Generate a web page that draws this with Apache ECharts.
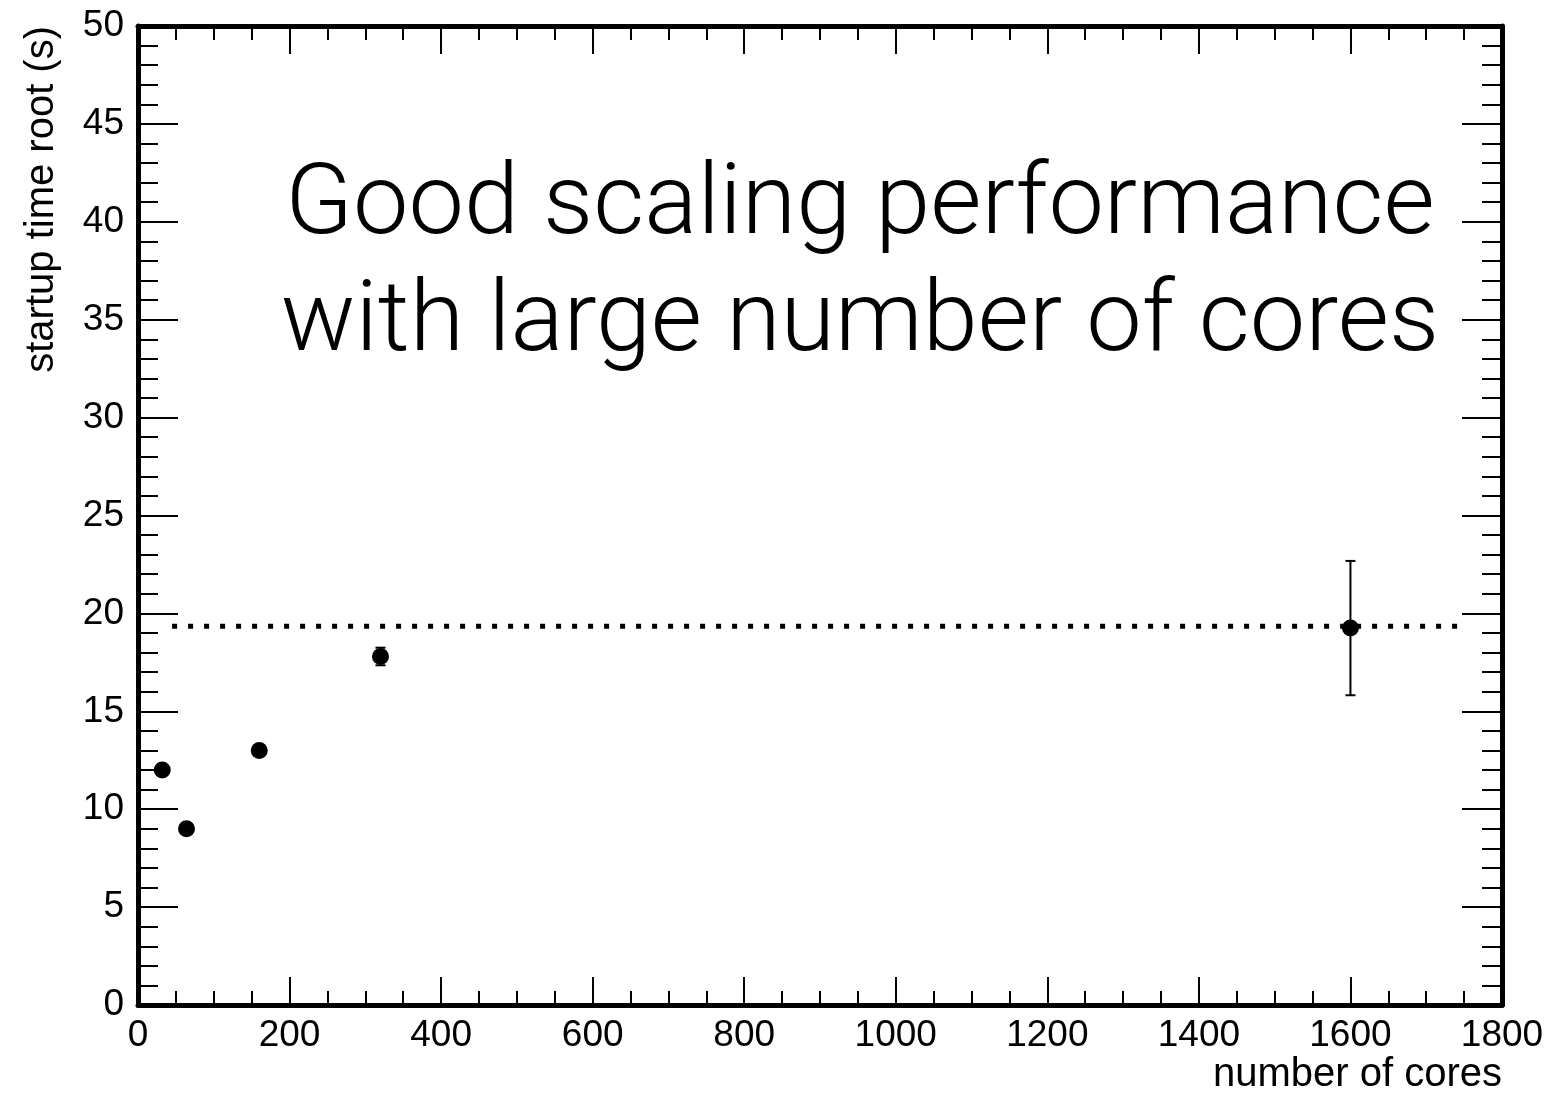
<!DOCTYPE html>
<html><head><meta charset="utf-8">
<script src="https://cdn.jsdelivr.net/npm/echarts@6/dist/echarts.min.js"></script>
<style>html,body{margin:0;padding:0;background:#fff}#c{width:1555px;height:1095px}</style>
</head><body><div id="c"></div>
<script>
// ---- data ----
const cores = [32, 64, 160, 320, 1600];
const startupTime = [12.0, 9.0, 13.0, 17.8, 19.25];
const startupErr = [0, 0, 0, 0.45, 3.43];
const refLineX = [45, 1745];
const refLineY = [19.35, 19.35];
const xRange = [0, 1800];
const xStep = 200;
const yRange = [0, 50];
const yStep = 5;
const xTitle = 'number of cores';
const yTitle = 'startup time root (s)';
const noteLines = ['Good scaling performance', 'with large number of cores'];

const FONT = 'Liberation Sans, Arial, Helvetica, sans-serif';
const chart = echarts.init(document.getElementById('c'));

function axisBase(extra) {
  return Object.assign({
    axisLine: { show: true, onZero: false, lineStyle: { color: '#000', width: 5 } },
    splitLine: { show: false },
    minorSplitLine: { show: false }
  }, extra);
}
const plain = v => String(v);

const points = cores.map((c, i) => [c, startupTime[i], startupErr[i]]);

const option = {
  backgroundColor: '#fff',
  animation: false,
  grid: { left: 138, right: 53, top: 26, bottom: 86, containLabel: false },
  xAxis: [
    axisBase({
      type: 'value', position: 'bottom', min: xRange[0], max: xRange[1], interval: xStep,
      name: xTitle, nameLocation: 'end', nameGap: 0,
      nameTextStyle: { fontFamily: FONT, fontSize: 40, color: '#000', align: 'right', verticalAlign: 'top', padding: [50, 0, 0, 0] },
      axisTick: { show: true, inside: true, length: 28, lineStyle: { color: '#000', width: 2 } },
      minorTick: { show: true, splitNumber: 4, length: 14, lineStyle: { color: '#000', width: 2 } },
      axisLabel: { fontFamily: FONT, fontSize: 37, color: '#000', margin: 12, formatter: plain }
    }),
    axisBase({
      type: 'value', position: 'top', min: xRange[0], max: xRange[1], interval: xStep,
      axisTick: { show: true, inside: true, length: 28, lineStyle: { color: '#000', width: 2 } },
      minorTick: { show: true, splitNumber: 4, length: 14, lineStyle: { color: '#000', width: 2 } },
      axisLabel: { show: false }
    })
  ],
  yAxis: [
    axisBase({
      type: 'value', position: 'left', min: yRange[0], max: yRange[1], interval: yStep,
      name: yTitle, nameLocation: 'end', nameRotate: 90, nameGap: 0,
      nameTextStyle: { fontFamily: FONT, fontSize: 40, color: '#000', align: 'right', verticalAlign: 'bottom', padding: [0, 0, 76, 0] },
      axisTick: { show: true, inside: true, length: 40, lineStyle: { color: '#000', width: 2 } },
      minorTick: { show: true, splitNumber: 5, length: 20, lineStyle: { color: '#000', width: 2 } },
      axisLabel: { fontFamily: FONT, fontSize: 37, color: '#000', margin: 14, formatter: plain }
    }),
    axisBase({
      type: 'value', position: 'right', min: yRange[0], max: yRange[1], interval: yStep,
      axisTick: { show: true, inside: true, length: 40, lineStyle: { color: '#000', width: 2 } },
      minorTick: { show: true, splitNumber: 5, length: 20, lineStyle: { color: '#000', width: 2 } },
      axisLabel: { show: false }
    })
  ],
  graphic: [
    { type: 'text', x: 860, y: 208, style: { text: noteLines[0], font: '300 99px Roboto, sans-serif', fill: '#000', align: 'center', verticalAlign: 'middle' } },
    { type: 'text', x: 860, y: 325, style: { text: noteLines[1], font: '300 99px Roboto, sans-serif', fill: '#000', align: 'center', verticalAlign: 'middle' } }
  ],
  series: [
    {
      type: 'line', xAxisIndex: 0, yAxisIndex: 0,
      data: refLineX.map((x, i) => [x, refLineY[i]]),
      symbol: 'none', silent: true,
      lineStyle: { color: '#000', width: 5, type: [5, 11], cap: 'butt', opacity: 1 }
    },
    {
      type: 'custom', xAxisIndex: 0, yAxisIndex: 0,
      data: points,
      renderItem: function (params, api) {
        const x = api.value(0), y = api.value(1), e = api.value(2);
        if (!e) return null;
        const top = api.coord([x, y + e]);
        const bot = api.coord([x, y - e]);
        const hw = 5;
        return {
          type: 'group',
          children: [
            { type: 'line', shape: { x1: top[0], y1: top[1], x2: bot[0], y2: bot[1] }, style: { stroke: '#000', lineWidth: 2 } },
            { type: 'line', shape: { x1: top[0] - hw, y1: top[1], x2: top[0] + hw, y2: top[1] }, style: { stroke: '#000', lineWidth: 2 } },
            { type: 'line', shape: { x1: bot[0] - hw, y1: bot[1], x2: bot[0] + hw, y2: bot[1] }, style: { stroke: '#000', lineWidth: 2 } }
          ]
        };
      },
      encode: { x: 0, y: 1 }
    },
    {
      type: 'scatter', xAxisIndex: 0, yAxisIndex: 0,
      data: points.map(p => [p[0], p[1]]),
      symbol: 'circle', symbolSize: 17,
      itemStyle: { color: '#000', opacity: 1 }
    }
  ]
};
chart.setOption(option);
</script>
</body></html>
